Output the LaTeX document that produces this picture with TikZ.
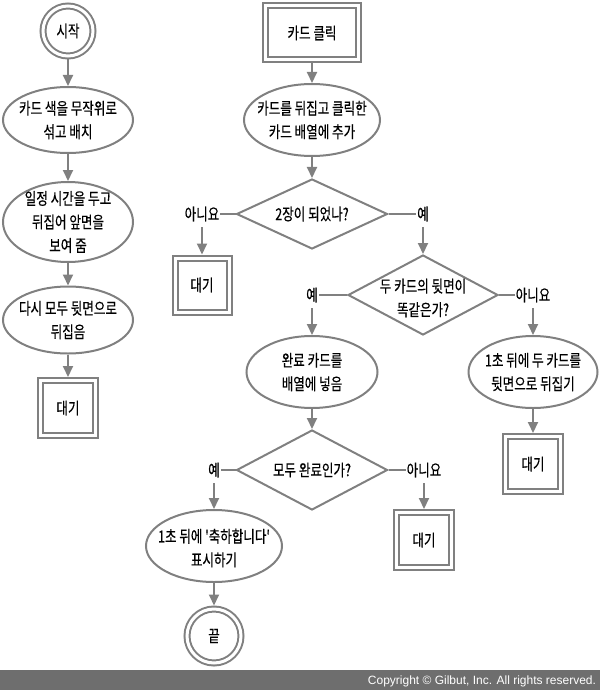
\documentclass[tikz,border=0pt]{standalone}
\usepackage{fontspec}
\newfontfamily\kr[FakeStretch=0.76,FakeBold=0.4,Ligatures=TeXOff]{Noto Sans CJK KR}
\newfontfamily\ftfont{Liberation Sans}
\usetikzlibrary{shapes.geometric,arrows.meta}
\definecolor{lncol}{HTML}{808080}
\definecolor{barcol}{HTML}{6E6E6E}
\begin{document}
\begin{tikzpicture}[x=1pt,y=-1pt,
  every node/.style={inner sep=0pt,outer sep=0pt},
  shp/.style={draw=lncol,line width=2pt,outer sep=1pt},
  ell/.style={shp,ellipse},
  dia/.style={shp,diamond},
  dbox/.style={draw=lncol,line width=2pt,double=white,double distance=3pt,rectangle,outer sep=3.5pt},
  dcirc/.style={draw=lncol,line width=2pt,double=white,double distance=3pt,circle,outer sep=3.5pt},
  txt/.style={font=\kr\fontsize{16.5}{23.5}\selectfont,align=center,text=black},
  lbl/.style={font=\kr\fontsize{16.5}{18}\selectfont,text=black,outer sep=1pt},
  arr/.style={draw=lncol,line width=2pt,-{Triangle[length=11pt,width=10pt]}},
  ln/.style={draw=lncol,line width=2pt}
]
\useasboundingbox (0,0) rectangle (600,690);
% footer
\fill[barcol] (0,670) rectangle (600,690);
\node[font=\ftfont\fontsize{12}{14}\selectfont,text=white,anchor=east] (copy) at (596,681) {Copyright © Gilbut, Inc. All rights reserved.};

% left column
\node[dcirc,minimum size=50pt] (start) at (68,31) {};
\node[txt] (startt) at (start) {시작};
\node[ell,minimum width=130pt,minimum height=66pt] (e1) at (68,120) {};
\node[txt] (e1t) at (e1) {카드 색을 무작위로\\섞고 배치};
\node[ell,minimum width=130pt,minimum height=80pt] (e2) at (68,222) {};
\node[txt] (e2t) at (e2) {일정 시간을 두고\\뒤집어 앞면을\\보여 줌};
\node[ell,minimum width=130pt,minimum height=67pt] (e3) at (68,320) {};
\node[txt] (e3t) at (e3) {다시 모두 뒷면으로\\뒤집음};
\node[dbox,minimum size=55pt] (w0) at (68,408) {};
\node[txt] (w0t) at (w0) {대기};
\draw[arr] (start) -- (e1);
\draw[arr] (e1) -- (e2);
\draw[arr] (e2) -- (e3);
\draw[arr] (e3) -- (w0);

% right part
\node[dbox,minimum width=93pt,minimum height=54pt] (click) at (312,33) {};
\node[txt] (clickt) at (click) {카드 클릭};
\node[ell,minimum width=136pt,minimum height=72pt] (e4) at (312,120) {};
\node[txt] (e4t) at (e4) {카드를 뒤집고 클릭한\\카드 배열에 추가};
\node[dia,minimum width=151pt,minimum height=70pt] (d1) at (312,214) {};
\node[txt] (d1t) at (d1) {2장이 되었나?};
\node[lbl] (d1no) at (202,214) {아니요};
\node[lbl] (d1yes) at (423,214) {예};
\node[dbox,minimum size=54pt] (w1) at (202,285) {};
\node[txt] (w1t) at (w1) {대기};
\draw[arr] (click) -- (e4);
\draw[arr] (e4) -- (d1);
\draw[ln] (d1.west) -- (d1no.east);
\draw[ln] (d1.east) -- (d1yes.west);
\draw[arr,shorten <=5pt] (d1no.south) -- (w1);

\node[dia,minimum width=150pt,minimum height=80pt] (d2) at (423,295) {};
\node[txt] (d2t) at (423,298) {두 카드의 뒷면이\\똑같은가?};
\node[lbl] (d2yes) at (312,295) {예};
\node[lbl] (d2no) at (533,295) {아니요};
\draw[arr,shorten <=5pt] (d1yes.south) -- (d2);
\draw[ln] (d2.west) -- (d2yes.east);
\draw[ln] (d2.east) -- (d2no.west);

\node[ell,minimum width=131pt,minimum height=72pt] (e5) at (312,372) {};
\node[txt] (e5t) at (e5) {완료 카드를\\배열에 넣음};
\node[ell,minimum width=129pt,minimum height=72pt] (e6) at (533,372) {};
\node[txt] (e6t) at (e6) {1초 뒤에 두 카드를\\뒷면으로 뒤집기};
\draw[arr,shorten <=5pt] (d2yes.south) -- (e5);
\draw[arr,shorten <=5pt] (d2no.south) -- (e6);
\node[dbox,minimum size=55pt] (w2) at (533,464) {};
\node[txt] (w2t) at (w2) {대기};
\draw[arr] (e6) -- (w2);

\node[dia,minimum width=151pt,minimum height=80pt] (d3) at (312,470) {};
\node[txt] (d3t) at (d3) {모두 완료인가?};
\node[lbl] (d3yes) at (214,470) {예};
\node[lbl] (d3no) at (424,470) {아니요};
\draw[arr] (e5) -- (d3);
\draw[ln] (d3.west) -- (d3yes.east);
\draw[ln] (d3.east) -- (d3no.west);
\node[dbox,minimum size=55pt] (w3) at (424,540) {};
\node[txt] (w3t) at (w3) {대기};
\node[ell,minimum width=136pt,minimum height=72pt] (e7) at (214,546) {};
\node[txt] (e7t) at (214,548) {1초 뒤에 '축하합니다'\\표시하기};
\draw[arr,shorten <=5pt] (d3no.south) -- (w3);
\draw[arr,shorten <=5pt] (d3yes.south) -- (e7);
\node[dcirc,minimum size=54pt] (end) at (214,636) {};
\node[txt] (endt) at (end) {끝};
\draw[arr] (e7) -- (end);
\end{tikzpicture}
\end{document}
